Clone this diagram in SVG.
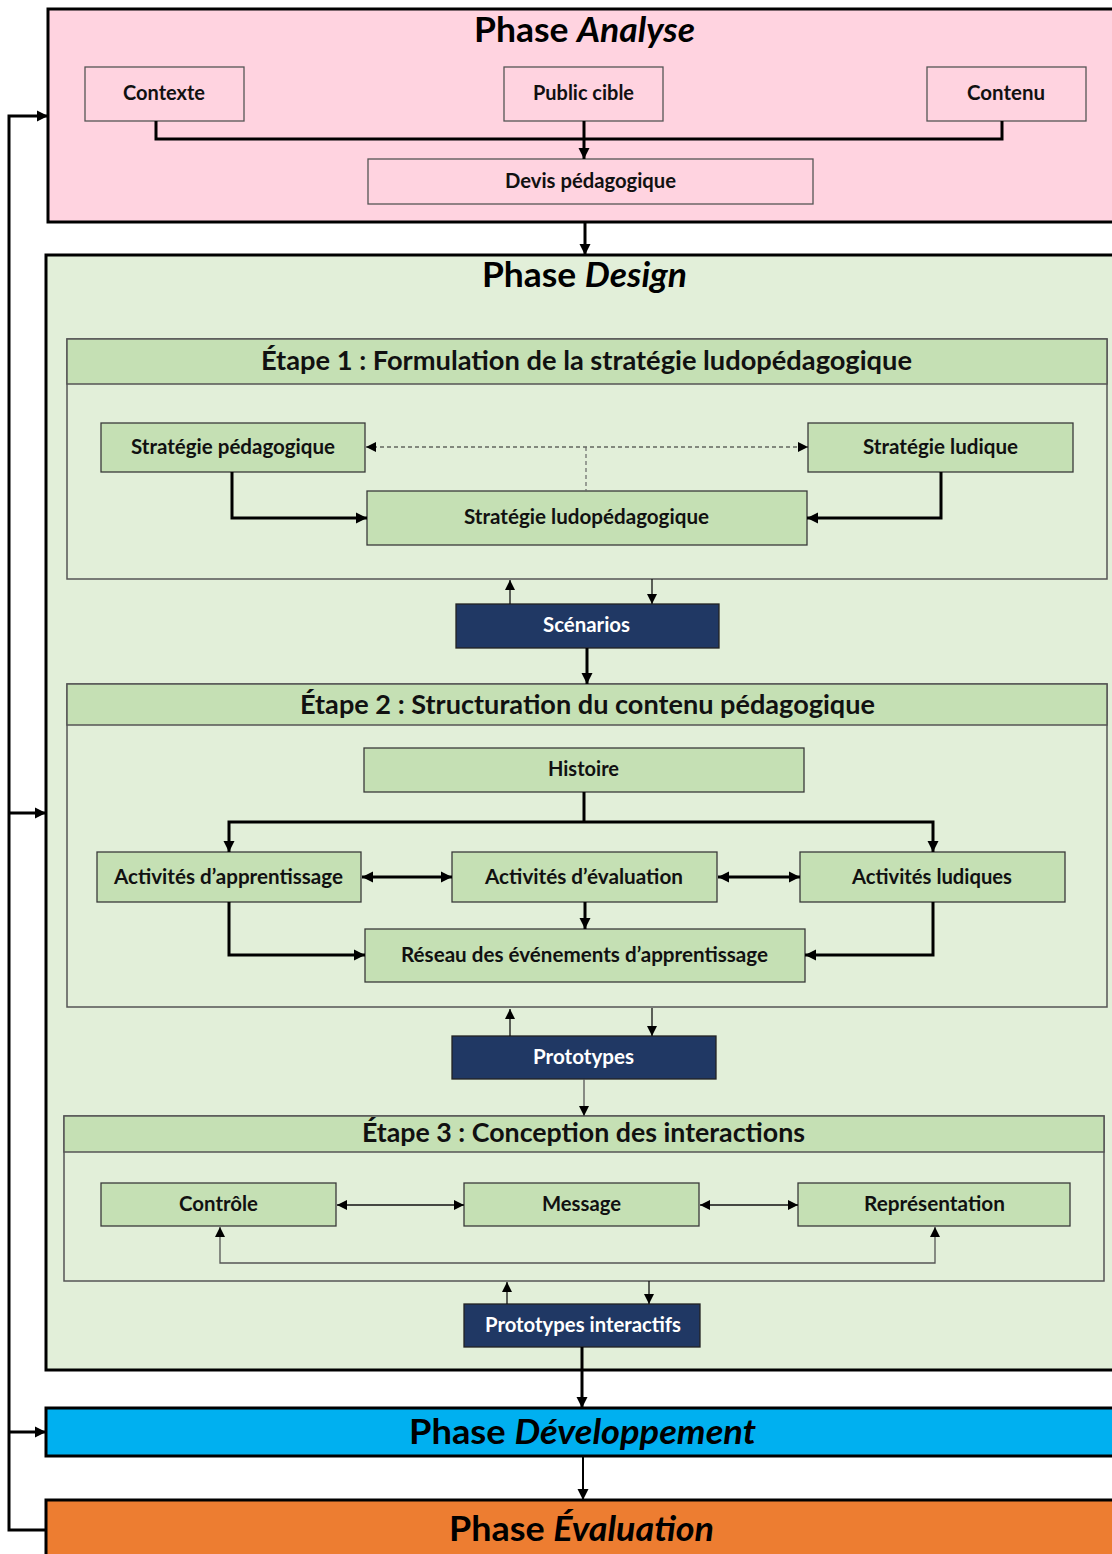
<svg xmlns="http://www.w3.org/2000/svg" width="1112" height="1554" viewBox="0 0 1112 1554">
  <defs>
    <marker id="ah" markerUnits="userSpaceOnUse" markerWidth="12" markerHeight="12" refX="11" refY="6" orient="auto-start-reverse">
      <path d="M0,0.5 L11,6 L0,11.5 z" fill="#000"/>
    </marker>
    <marker id="ahs" markerUnits="userSpaceOnUse" markerWidth="10" markerHeight="10" refX="10" refY="5" orient="auto-start-reverse">
      <path d="M0,0 L10,5 L0,10 z" fill="#000"/>
    </marker>
    <style>
      .phase { stroke: #000; stroke-width: 3; }
      .ptitle { font-family: Lato, "Liberation Sans", sans-serif; font-weight: 700; font-size: 34px; fill: #000; text-anchor: middle; }
      .stitle { font-family: Lato, "Liberation Sans", sans-serif; font-weight: 700; font-size: 26.5px; fill: #111; text-anchor: middle; }
      .lbl { font-family: Lato, "Liberation Sans", sans-serif; font-weight: 700; font-size: 20px; fill: #111; text-anchor: middle; }
      .wlbl { font-family: Lato, "Liberation Sans", sans-serif; font-weight: 700; font-size: 20px; fill: #fff; text-anchor: middle; }
      .pink { fill: #FFD3E0; stroke: #555; stroke-width: 1.3; }
      .green { fill: #C5E0B4; stroke: #3a3a3a; stroke-width: 1.3; }
      .navy { fill: #203864; stroke: #222; stroke-width: 1.3; }
      .stepbody { fill: #E2EFD9; stroke: #555; stroke-width: 1.5; }
      .stephead { fill: #C5E0B4; stroke: #555; stroke-width: 1.5; }
      .thick { fill: none; stroke: #000; stroke-width: 3; }
      .mid { fill: none; stroke: #000; stroke-width: 2; }
      .thin { fill: none; stroke: #111; stroke-width: 1.3; }
      .gthin { fill: none; stroke: #555; stroke-width: 1.3; }
      .dash { fill: none; stroke: #222; stroke-width: 1.2; stroke-dasharray: 4 3; }
      .gdash { fill: none; stroke: #666; stroke-width: 1.2; stroke-dasharray: 4 3; }
    </style>
  </defs>

  <rect width="1112" height="1554" fill="#fff"/>

  <!-- Phase containers -->
  <g id="phase-analyse">
    <rect class="phase" x="48" y="9" width="1080" height="213" fill="#FFD3E0"/>
    <text class="ptitle" x="584.5" y="42" textLength="221" lengthAdjust="spacingAndGlyphs">Phase <tspan font-style="italic">Analyse</tspan></text>
  </g>
  <g id="phase-design">
    <rect class="phase" x="46" y="255" width="1080" height="1115" fill="#E2EFD9"/>
    <text class="ptitle" x="584.5" y="287" textLength="205" lengthAdjust="spacingAndGlyphs">Phase <tspan font-style="italic">Design</tspan></text>
  </g>
  <g id="phase-developpement">
    <rect class="phase" x="46" y="1408" width="1080" height="48" fill="#00B0F0"/>
    <text class="ptitle" x="582.5" y="1444" textLength="347" lengthAdjust="spacingAndGlyphs">Phase <tspan font-style="italic">Développement</tspan></text>
  </g>
  <g id="phase-evaluation">
    <rect class="phase" x="46" y="1500" width="1080" height="70" fill="#ED7D31"/>
    <text class="ptitle" x="581.5" y="1541" textLength="265" lengthAdjust="spacingAndGlyphs">Phase <tspan font-style="italic">Évaluation</tspan></text>
  </g>

  <!-- Design steps -->
  <g id="etape-1">
    <rect class="stepbody" x="67" y="339" width="1040" height="240"/>
    <rect class="stephead" x="67" y="339" width="1040" height="45"/>
    <text class="stitle" x="586.5" y="370" textLength="651" lengthAdjust="spacingAndGlyphs">Étape 1 : Formulation de la stratégie ludopédagogique</text>
  </g>
  <g id="etape-2">
    <rect class="stepbody" x="67" y="684" width="1040" height="323"/>
    <rect class="stephead" x="67" y="684" width="1040" height="41"/>
    <text class="stitle" x="587.5" y="714" textLength="575" lengthAdjust="spacingAndGlyphs">Étape 2 : Structuration du contenu pédagogique</text>
  </g>
  <g id="etape-3">
    <rect class="stepbody" x="64" y="1116" width="1040" height="165"/>
    <rect class="stephead" x="64" y="1116" width="1040" height="36"/>
    <text class="stitle" x="583.5" y="1142" textLength="443" lengthAdjust="spacingAndGlyphs">Étape 3 : Conception des interactions</text>
  </g>

  <!-- Analyse nodes -->
  <g id="contexte">
    <rect class="pink" x="85" y="67" width="159" height="54"/>
    <text class="lbl" x="164" y="100" textLength="82" lengthAdjust="spacingAndGlyphs">Contexte</text>
  </g>
  <g id="public-cible">
    <rect class="pink" x="504" y="67" width="159" height="54"/>
    <text class="lbl" x="583.5" y="100" textLength="101" lengthAdjust="spacingAndGlyphs">Public cible</text>
  </g>
  <g id="contenu">
    <rect class="pink" x="927" y="67" width="159" height="54"/>
    <text class="lbl" x="1006" y="100" textLength="78" lengthAdjust="spacingAndGlyphs">Contenu</text>
  </g>
  <g id="devis">
    <rect class="pink" x="368" y="159" width="445" height="45" stroke="#222"/>
    <text class="lbl" x="590.5" y="188" textLength="171" lengthAdjust="spacingAndGlyphs">Devis pédagogique</text>
  </g>

  <!-- Step 1 nodes -->
  <g id="strategie-pedagogique">
    <rect class="green" x="101" y="423" width="264" height="49"/>
    <text class="lbl" x="233" y="454" textLength="204" lengthAdjust="spacingAndGlyphs">Stratégie pédagogique</text>
  </g>
  <g id="strategie-ludique">
    <rect class="green" x="808" y="423" width="265" height="49"/>
    <text class="lbl" x="940.5" y="454" textLength="155" lengthAdjust="spacingAndGlyphs">Stratégie ludique</text>
  </g>
  <g id="strategie-ludopedagogique">
    <rect class="green" x="367" y="491" width="440" height="54"/>
    <text class="lbl" x="586.5" y="524" textLength="245" lengthAdjust="spacingAndGlyphs">Stratégie ludopédagogique</text>
  </g>
  <g id="scenarios">
    <rect class="navy" x="456" y="604" width="263" height="44"/>
    <text class="wlbl" x="586.5" y="632" textLength="87" lengthAdjust="spacingAndGlyphs">Scénarios</text>
  </g>

  <!-- Step 2 nodes -->
  <g id="histoire">
    <rect class="green" x="364" y="748" width="440" height="44"/>
    <text class="lbl" x="583.5" y="776" textLength="71" lengthAdjust="spacingAndGlyphs">Histoire</text>
  </g>
  <g id="activites-apprentissage">
    <rect class="green" x="97" y="852" width="264" height="50"/>
    <text class="lbl" x="228.5" y="884" textLength="229" lengthAdjust="spacingAndGlyphs">Activités d’apprentissage</text>
  </g>
  <g id="activites-evaluation">
    <rect class="green" x="452" y="852" width="265" height="50"/>
    <text class="lbl" x="584" y="884" textLength="198" lengthAdjust="spacingAndGlyphs">Activités d’évaluation</text>
  </g>
  <g id="activites-ludiques">
    <rect class="green" x="800" y="852" width="265" height="50"/>
    <text class="lbl" x="932" y="884" textLength="160" lengthAdjust="spacingAndGlyphs">Activités ludiques</text>
  </g>
  <g id="reseau">
    <rect class="green" x="365" y="929" width="440" height="53"/>
    <text class="lbl" x="584.5" y="962" textLength="367" lengthAdjust="spacingAndGlyphs">Réseau des événements d’apprentissage</text>
  </g>
  <g id="prototypes">
    <rect class="navy" x="452" y="1036" width="264" height="43"/>
    <text class="wlbl" x="583.5" y="1064" textLength="101" lengthAdjust="spacingAndGlyphs">Prototypes</text>
  </g>

  <!-- Step 3 nodes -->
  <g id="controle">
    <rect class="green" x="101" y="1183" width="235" height="43"/>
    <text class="lbl" x="218.5" y="1211" textLength="79" lengthAdjust="spacingAndGlyphs">Contrôle</text>
  </g>
  <g id="message">
    <rect class="green" x="464" y="1183" width="235" height="43"/>
    <text class="lbl" x="581.5" y="1211" textLength="79" lengthAdjust="spacingAndGlyphs">Message</text>
  </g>
  <g id="representation">
    <rect class="green" x="798" y="1183" width="272" height="43"/>
    <text class="lbl" x="934.5" y="1211" textLength="141" lengthAdjust="spacingAndGlyphs">Représentation</text>
  </g>
  <g id="prototypes-interactifs">
    <rect class="navy" x="464" y="1304" width="236" height="43"/>
    <text class="wlbl" x="583" y="1332" textLength="196" lengthAdjust="spacingAndGlyphs">Prototypes interactifs</text>
  </g>

  <!-- Connectors -->
  <g id="connectors">
    <!-- Analyse: inputs merge into the teaching specification -->
    <path class="thick" d="M156,121 V139 H1002 V121"/>
    <path class="thick" d="M584,121 V159" marker-end="url(#ah)"/>
    <path class="thick" d="M585,222 V255" marker-end="url(#ah)"/>

    <!-- Step 1 -->
    <path class="dash" d="M366,447 H808" marker-start="url(#ahs)" marker-end="url(#ahs)"/>
    <path class="gdash" d="M586,447 V491"/>
    <path class="thick" d="M232,472 V518 H367" marker-end="url(#ah)"/>
    <path class="thick" d="M941,472 V518 H807" marker-end="url(#ah)"/>
    <path class="thin" d="M510,604 V580" marker-end="url(#ahs)"/>
    <path class="thin" d="M652,579 V604" marker-end="url(#ahs)"/>
    <path class="thick" d="M587,648 V684" marker-end="url(#ah)"/>

    <!-- Step 2 -->
    <path class="thick" d="M584,792 V822"/>
    <path class="thick" d="M229,852 V822 H933 V852" marker-start="url(#ah)" marker-end="url(#ah)"/>
    <path class="thick" d="M362,877 H452" marker-start="url(#ah)" marker-end="url(#ah)"/>
    <path class="thick" d="M718,877 H800" marker-start="url(#ah)" marker-end="url(#ah)"/>
    <path class="thick" d="M585,902 V929" marker-end="url(#ah)"/>
    <path class="thick" d="M229,902 V955 H365" marker-end="url(#ah)"/>
    <path class="thick" d="M933,902 V955 H805" marker-end="url(#ah)"/>
    <path class="thin" d="M510,1036 V1009" marker-end="url(#ahs)"/>
    <path class="thin" d="M652,1008 V1036" marker-end="url(#ahs)"/>
    <path class="gthin" d="M584,1079 V1116" marker-end="url(#ahs)"/>

    <!-- Step 3 -->
    <path class="thin" d="M337,1205 H464" marker-start="url(#ahs)" marker-end="url(#ahs)"/>
    <path class="thin" d="M700,1205 H798" marker-start="url(#ahs)" marker-end="url(#ahs)"/>
    <path class="gthin" d="M220,1227 V1263 H935 V1227" marker-start="url(#ahs)" marker-end="url(#ahs)"/>
    <path class="thin" d="M507,1304 V1282" marker-end="url(#ahs)"/>
    <path class="thin" d="M649,1281 V1304" marker-end="url(#ahs)"/>

    <!-- Between phases -->
    <path class="thick" d="M582,1347 V1408" marker-end="url(#ah)"/>
    <path class="mid" d="M583,1456 V1500" marker-end="url(#ah)"/>

    <!-- Feedback loop from evaluation to earlier phases -->
    <path class="thick" d="M46,1530 H9 V116 H48" marker-end="url(#ah)"/>
    <path class="thick" d="M9,813 H46" marker-end="url(#ah)"/>
    <path class="thick" d="M9,1432 H46" marker-end="url(#ah)"/>
  </g>
</svg>
